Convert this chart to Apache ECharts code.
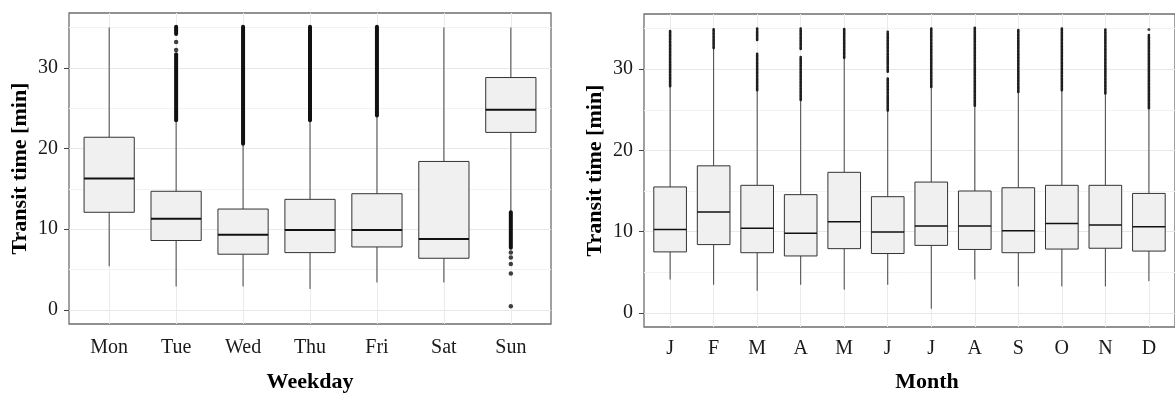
<!DOCTYPE html>
<html>
<head>
<meta charset="utf-8">
<script src="https://cdn.jsdelivr.net/npm/echarts@6/dist/echarts.min.js"></script>
<style>
  html, body { margin: 0; padding: 0; background: #fff; }
  #chart { width: 1175px; height: 398px; }
</style>
</head>
<body>
<div id="chart"></div>
<script>
// transit time per weekday (min)
const weekdays = ['Mon', 'Tue', 'Wed', 'Thu', 'Fri', 'Sat', 'Sun'];
const dayLow    = [5.4, 2.9, 2.9, 2.6, 3.4, 3.4, 12.2];
const dayQ1     = [12.1, 8.6, 6.9, 7.1, 7.8, 6.4, 22.0];
const dayMedian = [16.3, 11.3, 9.3, 9.9, 9.9, 8.8, 24.8];
const dayQ3     = [21.4, 14.7, 12.5, 13.7, 14.4, 18.4, 28.8];
const dayHigh   = [35.0, 23.4, 20.5, 23.4, 24.0, 35.0, 35.0];
// dense outlier runs: [day, from, to], single outliers: [day, value]
const dayOutlierRuns = [[2, 23.5, 31.7], [2, 34.2, 35.1], [3, 20.6, 35.1], [4, 23.5, 35.1], [5, 24.1, 35.1], [7, 7.7, 12.1]];
const dayOutlierPoints = [[2, 32.2], [2, 33.2], [7, 7.1], [7, 6.5], [7, 5.7], [7, 4.5], [7, 0.45]];

// transit time per month (min)
const months = ['J', 'F', 'M', 'A', 'M', 'J', 'J', 'A', 'S', 'O', 'N', 'D'];
const monLow    = [4.1, 3.45, 2.7, 3.45, 2.85, 3.45, 0.5, 4.1, 3.25, 3.25, 3.25, 3.9];
const monQ1     = [7.5, 8.4, 7.4, 7.0, 7.9, 7.3, 8.3, 7.8, 7.4, 7.85, 7.95, 7.6];
const monMedian = [10.25, 12.4, 10.4, 9.8, 11.2, 9.95, 10.7, 10.7, 10.1, 11.0, 10.8, 10.6];
const monQ3     = [15.5, 18.1, 15.7, 14.55, 17.3, 14.3, 16.1, 15.0, 15.4, 15.7, 15.7, 14.7];
const monHigh   = [27.9, 32.6, 27.4, 26.2, 31.4, 24.85, 27.8, 25.5, 27.2, 27.4, 27.0, 25.2];
const monOutlierRuns = [[1, 27.9, 34.8], [2, 32.6, 35.0], [3, 27.4, 31.9], [3, 33.6, 35.0], [4, 26.2, 31.5], [4, 32.5, 35.0],
  [5, 31.4, 35.0], [6, 24.9, 28.9], [6, 29.7, 34.6], [7, 27.8, 35.0], [8, 25.5, 35.1], [9, 27.2, 34.9],
  [10, 27.4, 35.1], [11, 27.0, 34.9], [12, 25.2, 34.2]];
const monOutlierPoints = [[12, 34.9]];

const yTicks = [0, 10, 20, 30];
const yMinor = [5, 15, 25, 35];

const serif = '"Liberation Serif", "DejaVu Serif", serif';

function boxRows(low, q1, med, q3, high) {
  return low.map((v, i) => [i + 1, v, q1[i], med[i], q3[i], high[i]]);
}

function boxRenderer(medianWidth) {
  return function (params, api) {
    const x = api.value(0);
    const lo = api.coord([x, api.value(1)]);
    const a = api.coord([x, api.value(2)]);
    const md = api.coord([x, api.value(3)]);
    const b = api.coord([x, api.value(4)]);
    const hi = api.coord([x, api.value(5)]);
    const w = api.size([0.75, 0])[0];
    return {
      type: 'group',
      children: [
        { type: 'line', shape: { x1: lo[0], y1: lo[1], x2: a[0], y2: a[1] }, style: { stroke: '#444', lineWidth: 1 } },
        { type: 'line', shape: { x1: b[0], y1: b[1], x2: hi[0], y2: hi[1] }, style: { stroke: '#444', lineWidth: 1 } },
        { type: 'rect', shape: { x: b[0] - w / 2, y: b[1], width: w, height: a[1] - b[1] }, style: { fill: '#f0f0f0', stroke: '#333', lineWidth: 1 } },
        { type: 'line', shape: { x1: md[0] - w / 2, y1: md[1], x2: md[0] + w / 2, y2: md[1] }, style: { stroke: '#111', lineWidth: medianWidth } }
      ]
    };
  };
}

function runRenderer(width, dash, color) {
  return function (params, api) {
    const x = api.value(0);
    const p = api.coord([x, api.value(1)]);
    const q = api.coord([x, api.value(2)]);
    return {
      type: 'line',
      shape: { x1: p[0], y1: p[1], x2: q[0], y2: q[1] },
      style: { stroke: color, lineWidth: width, lineCap: 'round', lineDash: dash }
    };
  };
}

function gridLines(count) {
  const lines = [];
  yMinor.forEach(v => lines.push({ yAxis: v, lineStyle: { color: '#f3f3f3', width: 1, type: 'solid' } }));
  yTicks.forEach(v => lines.push({ yAxis: v, lineStyle: { color: '#e8e8e8', width: 1.2, type: 'solid' } }));
  for (let i = 1; i <= count; i++) {
    lines.push({ xAxis: i, lineStyle: { color: '#ebebeb', width: 1, type: 'solid' } });
  }
  return lines;
}

function xAxisFor(idx, names, gap, title, pad) {
  const vals = names.map((n, i) => i + 1);
  return {
    type: 'value', gridIndex: idx, min: 0.4, max: names.length + 0.6,
    splitLine: { show: false }, axisLine: { show: false },
    axisTick: { show: true, customValues: vals, length: 5, lineStyle: { color: '#444', width: 1 } },
    axisLabel: { customValues: vals, formatter: v => names[Math.round(v) - 1], margin: idx === 0 ? 14 : 12,
      fontFamily: serif, fontSize: 20, color: '#1a1a1a' },
    name: title, nameLocation: 'middle', nameGap: gap,
    nameTextStyle: { fontFamily: serif, fontSize: 22, fontWeight: 'bold', color: '#000', padding: pad }
  };
}

function yAxisFor(idx) {
  return {
    type: 'value', gridIndex: idx, min: -1.75, max: 36.8,
    splitLine: { show: false }, axisLine: { show: false },
    axisTick: { show: true, customValues: yTicks, length: 5, lineStyle: { color: '#444', width: 1 } },
    axisLabel: { customValues: yTicks, margin: 11, fontFamily: serif, fontSize: 20, color: '#1a1a1a' },
    name: 'Transit time [min]', nameLocation: 'middle', nameGap: 38,
    nameTextStyle: { fontFamily: serif, fontSize: 22, fontWeight: 'bold', color: '#000' }
  };
}

const chart = echarts.init(document.getElementById('chart'), null, { renderer: 'canvas' });

chart.setOption({
  animation: false,
  backgroundColor: '#fff',
  grid: [
    { left: 69, top: 13, width: 482, height: 314, show: true, borderColor: '#6e6e6e', borderWidth: 1.3, backgroundColor: 'transparent' },
    { left: 644, top: 14, width: 537, height: 313, show: true, borderColor: '#6e6e6e', borderWidth: 1.3, backgroundColor: 'transparent' }
  ],
  xAxis: [
    xAxisFor(0, weekdays, 47, 'Weekday', [0, 0, 0, 0]),
    xAxisFor(1, months, 44, 'Month', [0, 0, 0, 35])
  ],
  yAxis: [yAxisFor(0), yAxisFor(1)],
  series: [
    // panel grid lines
    { type: 'line', xAxisIndex: 0, yAxisIndex: 0, data: [], z: 1, silent: true,
      markLine: { z: 1, silent: true, symbol: ['none', 'none'], label: { show: false }, data: gridLines(weekdays.length) } },
    { type: 'line', xAxisIndex: 1, yAxisIndex: 1, data: [], z: 1, silent: true,
      markLine: { z: 1, silent: true, symbol: ['none', 'none'], label: { show: false }, data: gridLines(months.length) } },
    // weekday boxes
    { type: 'custom', xAxisIndex: 0, yAxisIndex: 0, z: 6, renderItem: boxRenderer(2),
      encode: { x: 0, y: [1, 2, 3, 4, 5] }, data: boxRows(dayLow, dayQ1, dayMedian, dayQ3, dayHigh) },
    { type: 'custom', xAxisIndex: 0, yAxisIndex: 0, z: 7, renderItem: runRenderer(4, null, '#111'),
      encode: { x: 0, y: [1, 2] }, data: dayOutlierRuns },
    { type: 'scatter', xAxisIndex: 0, yAxisIndex: 0, z: 7, symbolSize: 4.5,
      itemStyle: { color: '#111' }, data: dayOutlierPoints },
    // month boxes
    { type: 'custom', xAxisIndex: 1, yAxisIndex: 1, z: 6, renderItem: boxRenderer(1.5),
      encode: { x: 0, y: [1, 2, 3, 4, 5] }, data: boxRows(monLow, monQ1, monMedian, monQ3, monHigh) },
    { type: 'custom', xAxisIndex: 1, yAxisIndex: 1, z: 7, renderItem: runRenderer(2.6, [2.4, 0.9], '#1e1e1e'),
      encode: { x: 0, y: [1, 2] }, data: monOutlierRuns },
    { type: 'scatter', xAxisIndex: 1, yAxisIndex: 1, z: 7, symbolSize: 3,
      itemStyle: { color: '#222' }, data: monOutlierPoints }
  ]
});
</script>
</body>
</html>
